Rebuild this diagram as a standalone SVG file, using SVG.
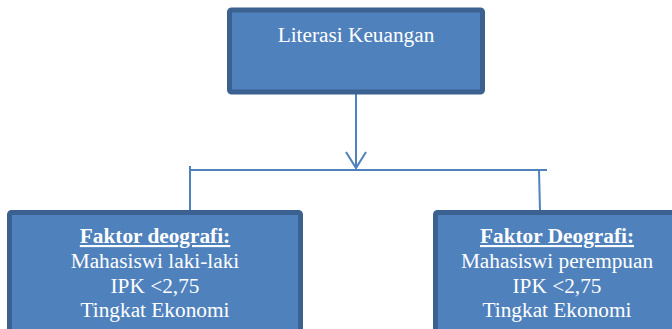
<svg xmlns="http://www.w3.org/2000/svg" width="672" height="329" viewBox="0 0 672 329">
<style>
.box{fill:#4F81BD;stroke:#3B6190;stroke-width:5}
text{font-family:'Liberation Serif','Times New Roman',Tinos,'DejaVu Serif',serif;font-size:21.3px;fill:#ffffff;text-anchor:middle}
.b{font-weight:bold;text-decoration:underline}
.ln{stroke:#4F81BD;stroke-width:2;fill:none}
</style>
<g id="connectors">
<line class="ln" x1="356" y1="94" x2="356" y2="168"/>
<polyline class="ln" points="346,152 356,168 366,152"/>
<line class="ln" x1="190" y1="170" x2="547" y2="170"/>
<line class="ln" x1="190" y1="166" x2="190" y2="211"/>
<line class="ln" x1="539" y1="170" x2="540" y2="211"/>
</g>
<g id="literasi">
<rect class="box" x="229.5" y="10" width="253" height="82" rx="2"/>
<text x="356" y="42">Literasi Keuangan</text>
</g>
<g id="faktor-laki">
<rect class="box" x="9.5" y="212.5" width="291" height="130" rx="2"/>
<text class="b" x="155" y="243">Faktor deografi:</text>
<text x="155" y="268">Mahasiswi laki-laki</text>
<text x="155" y="293">IPK &lt;2,75</text>
<text x="155" y="317">Tingkat Ekonomi</text>
</g>
<g id="faktor-perempuan">
<rect class="box" x="435.5" y="212.5" width="250" height="130" rx="2"/>
<text class="b" x="557" y="243">Faktor Deografi:</text>
<text x="557" y="268">Mahasiswi perempuan</text>
<text x="557" y="293">IPK &lt;2,75</text>
<text x="557" y="317">Tingkat Ekonomi</text>
</g>
</svg>
